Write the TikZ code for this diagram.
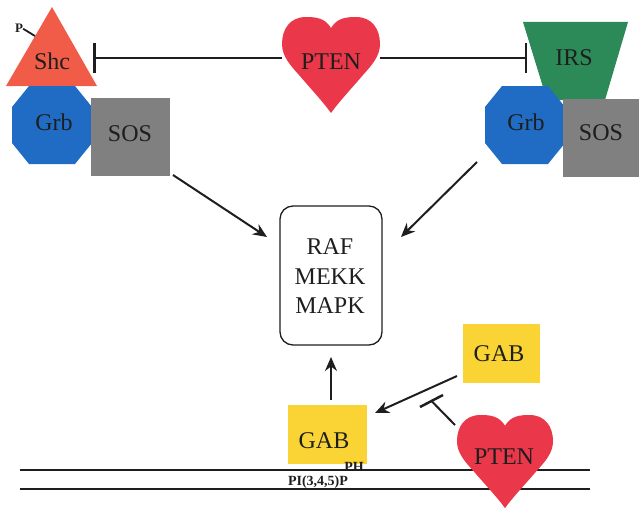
\documentclass[tikz,border=0pt]{standalone}
\usepackage{fontspec}
\setmainfont{Liberation Serif}
\usetikzlibrary{arrows.meta}
\definecolor{shcred}{RGB}{240,92,72}
\definecolor{grbblue}{RGB}{32,108,196}
\definecolor{sosgray}{RGB}{128,128,128}
\definecolor{irsgreen}{RGB}{44,138,88}
\definecolor{heartred}{RGB}{234,56,74}
\definecolor{gabyellow}{RGB}{250,212,52}
\definecolor{ink}{RGB}{30,30,30}
\newcommand\myheart[4]{%
  \begin{scope}[shift={(#1,#2)},xscale=#3,yscale=#4]
  \fill[heartred] (0,11) .. controls (-6,1) and (-15,0) .. (-25,0)
    .. controls (-41,0) and (-49,12) .. (-49,27)
    .. controls (-49,39) and (-41,48) .. (-32,58)
    .. controls (-20,72) and (-7,86) .. (0,96)
    .. controls (7,86) and (20,72) .. (32,58)
    .. controls (41,48) and (49,39) .. (49,27)
    .. controls (49,12) and (41,0) .. (25,0)
    .. controls (15,0) and (6,1) .. (0,11) -- cycle;
  \end{scope}}
\newcommand\myocta[2]{%
  \fill[grbblue] (#1-23,#2-39) -- (#1+23,#2-39) -- (#1+40,#2-18) -- (#1+40,#2+18)
    -- (#1+23,#2+39) -- (#1-23,#2+39) -- (#1-40,#2+18) -- (#1-40,#2-18) -- cycle;}
\tikzset{
  lbl/.style={anchor=base,text=ink,inner sep=0pt,font=\fontsize{24}{28}\selectfont},
  small/.style={anchor=base,text=ink,inner sep=0pt,font=\fontsize{14}{16}\selectfont\bfseries},
  arr/.style={draw=ink,line width=2pt,-{Stealth[length=14pt,width=12pt]}},
  inhib/.style={draw=ink,line width=2pt,-{Bar[width=30pt,line width=2.5pt]}},
  plain/.style={draw=ink,line width=2pt},
  memb/.style={draw=ink,line width=1.3pt}
}
\begin{document}
\begin{tikzpicture}[x=1pt,y=-1pt]
\useasboundingbox (0,0) rectangle (639,511);
% membrane
\draw[memb] (20,470) -- (590,470);
\draw[memb] (20,489) -- (590,489);
% left complex
\fill[shcred] (52,7) -- (97,86) -- (6,86) -- cycle;
\myocta{52}{125}
\fill[sosgray] (91,98) rectangle (170,176);
\node[lbl] (shc) at (52,70) {Shc};
\node[lbl] (grbL) at (54,130) {Grb};
\node[lbl] (sosL) at (130,141) {SOS};
\node[small,font=\fontsize{13}{14}\selectfont\bfseries] (p) at (19,33) {P};
\coordinate (pend) at (35,36);
\draw[draw=ink,line width=1.8pt] (p.east) -- (pend);
% right complex
\fill[irsgreen] (523,22) -- (628,22) -- (605,100) -- (547,100) -- cycle;
\myocta{525}{125}
\fill[sosgray] (563,99) rectangle (639,177);
\node[lbl] (irs) at (574,65) {IRS};
\node[lbl] (grbR) at (526,130) {Grb};
\node[lbl] (sosR) at (601,140) {SOS};
% top PTEN
\myheart{331}{17}{1}{1}
\node[lbl] (pten1) at (331,70) {PTEN};
\coordinate (pten1w) at (282,58);
\coordinate (pten1e) at (380,58);
\coordinate (shcbar) at (93,58);
\coordinate (irsbar) at (527,58);
\draw[inhib] (pten1w) -- (shcbar);
\draw[inhib] (pten1e) -- (irsbar);
% central box
\node[draw=ink,line width=1.3pt,rounded corners=13pt,minimum width=102pt,minimum height=139pt,inner sep=0pt] (box) at (331,275.5) {};
\node[lbl] (raf) at (330,254) {RAF};
\node[lbl] (mekk) at (330,284) {MEKK};
\node[lbl] (mapk) at (330,313) {MAPK};
\coordinate (sosLout) at (173,175);
\coordinate (boxinL) at (267,237);
\coordinate (sosRout) at (477,162);
\coordinate (boxinR) at (401,237);
\coordinate (boxinB) at (331,357);
\draw[arr] (sosLout) -- (boxinL);
\draw[arr] (sosRout) -- (boxinR);
% GAB boxes
\fill[gabyellow] (288,405) rectangle (367,464);
\fill[gabyellow] (463,324) rectangle (540,383);
\node[lbl] (gab1) at (324,448) {GAB};
\node[lbl] (gab2) at (499,361) {GAB};
\coordinate (gab1top) at (331,400);
\draw[arr] (gab1top) -- (boxinB);
\coordinate (gab2out) at (457,376);
\coordinate (gab1in) at (375,413);
\draw[arr] (gab2out) -- (gab1in);
% bottom PTEN
\myheart{505}{415}{0.98}{0.97}
\node[lbl] (pten2) at (504,464) {PTEN};
\coordinate (pten2out) at (455,425);
\coordinate (barmid) at (431.5,401);
\coordinate (barA) at (420,407);
\coordinate (barB) at (443,395);
\draw[plain] (pten2out) -- (barmid);
\draw[draw=ink,line width=2.5pt] (barA) -- (barB);
\node[small] (ph) at (354,471) {PH};
\node[small] (pip) at (318,485) {PI(3,4,5)P};
\end{tikzpicture}
\end{document}
